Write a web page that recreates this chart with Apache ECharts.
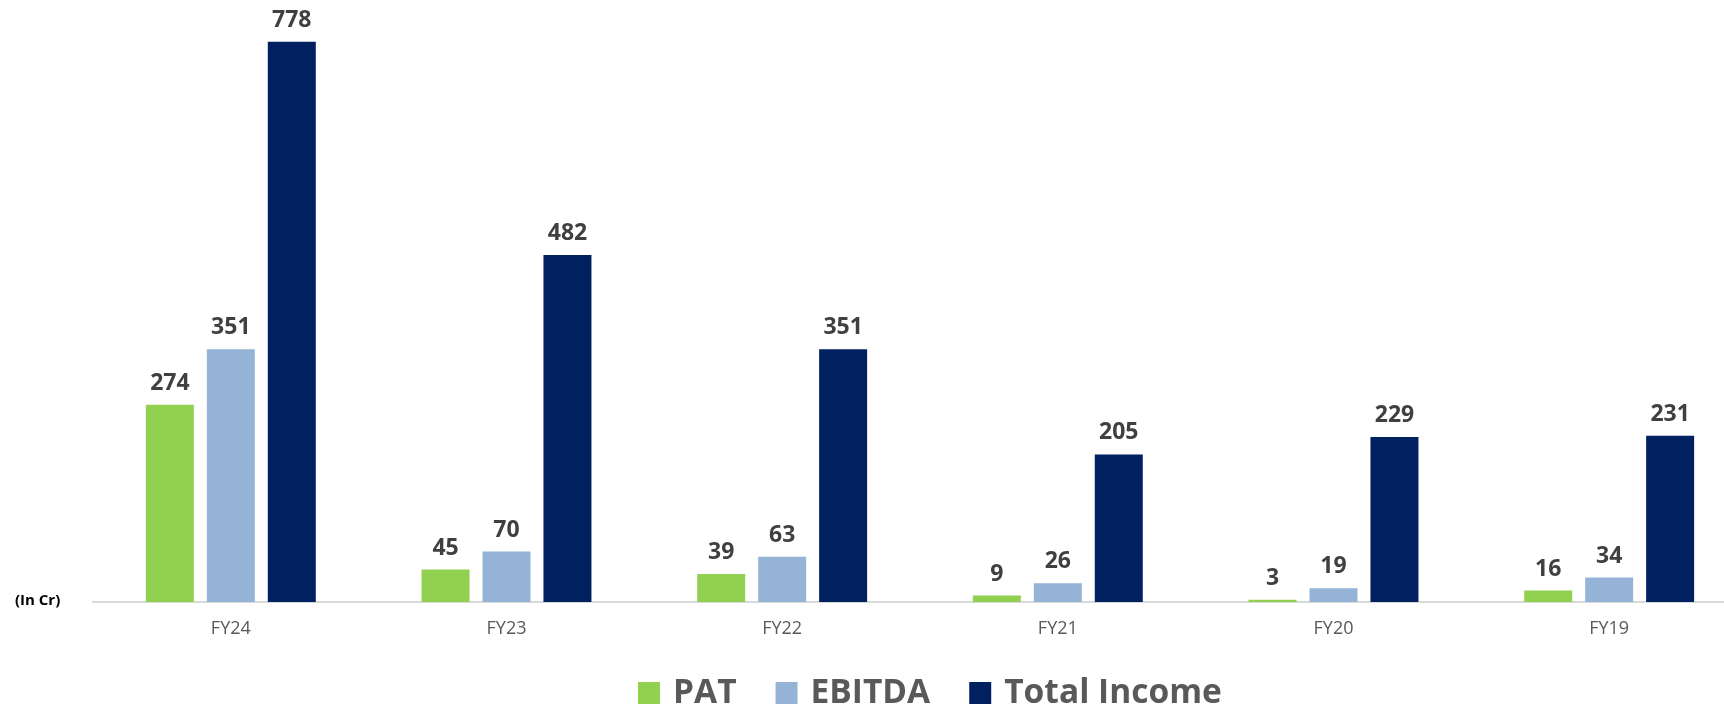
<!DOCTYPE html>
<html>
<head>
<meta charset="utf-8">
<script src="https://cdn.jsdelivr.net/npm/echarts@6/dist/echarts.min.js"></script>
<style>
  html, body { margin: 0; padding: 0; background: #fff; }
  #chart { width: 1724px; height: 707px; }
</style>
</head>
<body>
<div id="chart"></div>
<script>
const years = ['FY24', 'FY23', 'FY22', 'FY21', 'FY20', 'FY19']
const pat = [274, 45, 39, 9, 3, 16]
const ebitda = [351, 70, 63, 26, 19, 34]
const totalIncome = [778, 482, 351, 205, 229, 231]

const font = '"Open Sans", sans-serif'

// same label style for every series
const valueLabel = {
  show: true,
  position: 'top',
  distance: 10,
  fontFamily: font,
  fontSize: 23,
  fontWeight: 'bold',
  color: '#404040'
}

const chart = echarts.init(document.getElementById('chart'))
chart.setOption({
  animation: false,
  grid: {
    left: 93,
    top: 26,
    width: 1654,
    bottom: 105,
    // plot runs past the right edge, like the original
    outerBoundsMode: 'none'
  },
  legend: {
    left: 638,
    top: 676,
    padding: 0,
    icon: 'rect',
    itemWidth: 22,
    itemHeight: 22,
    itemGap: 39,
    textStyle: {
      fontFamily: font,
      fontSize: 33.5,
      fontWeight: 'bold',
      color: '#595959',
      padding: [0, 0, 0, 8]
    }
  },
  xAxis: {
    type: 'category',
    data: years,
    axisLine: { lineStyle: { color: '#d9d9d9', width: 2 } },
    axisTick: { show: false },
    axisLabel: {
      margin: 18,
      fontFamily: font,
      fontSize: 18,
      color: '#595959'
    }
  },
  yAxis: {
    type: 'value',
    min: 0,
    max: 800,
    show: false,
    splitLine: { show: false }
  },
  // y axis unit on the left of the baseline
  graphic: [{
    type: 'text',
    left: 15,
    top: 593,
    style: {
      text: '(In Cr)',
      fontFamily: font,
      fontSize: 15,
      fontWeight: 'bold',
      fill: '#000'
    }
  }],
  series: [
    {
      name: 'PAT',
      type: 'bar',
      data: pat,
      barWidth: 48,
      barGap: '27%',
      itemStyle: { color: '#92d050' },
      label: valueLabel
    },
    {
      name: 'EBITDA',
      type: 'bar',
      data: ebitda,
      barWidth: 48,
      barGap: '27%',
      itemStyle: { color: '#95b3d7' },
      label: valueLabel
    },
    {
      name: 'Total Income',
      type: 'bar',
      data: totalIncome,
      barWidth: 48,
      barGap: '27%',
      itemStyle: { color: '#002060' },
      label: valueLabel
    }
  ]
})
</script>
</body>
</html>
